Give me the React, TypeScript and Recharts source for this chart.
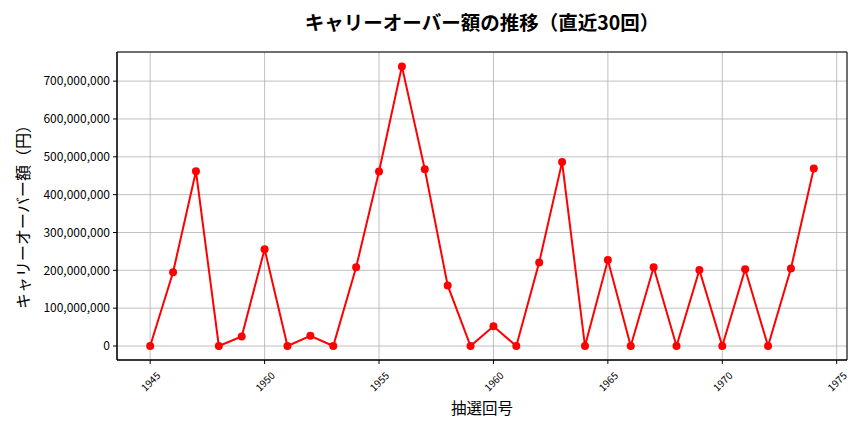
import { LineChart, Line, XAxis, YAxis, CartesianGrid, ReferenceArea } from "recharts";

const draws = [
  1945, 1946, 1947, 1948, 1949, 1950, 1951, 1952, 1953, 1954,
  1955, 1956, 1957, 1958, 1959, 1960, 1961, 1962, 1963, 1964,
  1965, 1966, 1967, 1968, 1969, 1970, 1971, 1972, 1973, 1974,
];

const carryover = [
  0, 195000000, 462000000, 0, 25000000, 256000000, 0, 27000000, 0, 208000000,
  461000000, 739000000, 467000000, 160000000, 0, 52000000, 0, 221000000, 486000000, 0,
  227000000, 0, 208000000, 0, 201000000, 0, 203000000, 0, 205000000, 469000000,
];

const xTicks = [1945, 1950, 1955, 1960, 1965, 1970, 1975];
const yTicks = [0, 100000000, 200000000, 300000000, 400000000, 500000000, 600000000, 700000000];

const X_DOMAIN: [number, number] = [1943.55, 1975.45];
const Y_DOMAIN: [number, number] = [-37000000, 777000000];

const FONT = "'Noto Sans CJK JP', 'Noto Sans', sans-serif";

const data = draws.map((d, i) => ({ draw: d, amount: carryover[i] }));

// eslint-disable-next-line @typescript-eslint/no-explicit-any
function XTick({ x, y, payload }: any) {
  const cy = y + 15;
  return (
    <text
      x={x}
      y={cy}
      transform={`rotate(-45, ${x}, ${cy})`}
      textAnchor="middle"
      dominantBaseline="central"
      fontSize={10}
      fontFamily={FONT}
      fill="#000"
    >
      {payload.value}
    </text>
  );
}

export default function App() {
  return (
    <div style={{ position: "absolute", left: 0, top: 0, width: 864, height: 432, background: "#fff" }}>
      <div
        style={{
          position: "absolute",
          left: 117,
          width: 730,
          top: 8,
          textAlign: "center",
          fontFamily: FONT,
          fontSize: 19.5,
          fontWeight: 700,
          color: "#000",
          lineHeight: "28px",
        }}
      >
        キャリーオーバー額の推移（直近30回）
      </div>
      <LineChart width={864} height={432} data={data} margin={{ top: 52, right: 17, bottom: 0, left: 0 }}>
        <CartesianGrid stroke="#b0b0b0" strokeWidth={0.8} />
        <XAxis
          dataKey="draw"
          type="number"
          domain={X_DOMAIN}
          ticks={xTicks}
          allowDataOverflow
          height={72}
          tick={<XTick />}
          tickSize={4}
          stroke="#000"
          label={({ viewBox }: any) => (
            <text
              x={viewBox.x + viewBox.width / 2}
              y={viewBox.y + 47}
              textAnchor="middle"
              dominantBaseline="central"
              fontSize={15.5}
              fontFamily={FONT}
              fill="#000"
            >
              抽選回号
            </text>
          )}
        />
        <YAxis
          type="number"
          domain={Y_DOMAIN}
          ticks={yTicks}
          allowDataOverflow
          width={117}
          tickSize={4}
          tickMargin={3}
          stroke="#000"
          tick={{ fontSize: 12, fontFamily: FONT, fill: "#000" }}
          tickFormatter={(v: number) => v.toLocaleString("en-US")}
          label={({ viewBox }: any) => {
            const cx = viewBox.x + 22;
            const cy = viewBox.y + viewBox.height / 2 + 7;
            return (
              <text
                x={cx}
                y={cy}
                transform={`rotate(-90, ${cx}, ${cy})`}
                textAnchor="middle"
                dominantBaseline="central"
                fontSize={16}
                fontFamily={FONT}
                fill="#000"
              >
                キャリーオーバー額（円）
              </text>
            );
          }}
        />
        <ReferenceArea
          x1={X_DOMAIN[0]}
          x2={X_DOMAIN[1]}
          y1={Y_DOMAIN[0]}
          y2={Y_DOMAIN[1]}
          fill="none"
          stroke="#000"
          strokeWidth={1}
          ifOverflow="visible"
        />
        <Line
          dataKey="amount"
          type="linear"
          stroke="#ff0000"
          strokeWidth={2}
          dot={{ r: 4, fill: "#ff0000", stroke: "#ff0000", strokeWidth: 0 }}
          activeDot={false}
          isAnimationActive={false}
        />
      </LineChart>
    </div>
  );
}
